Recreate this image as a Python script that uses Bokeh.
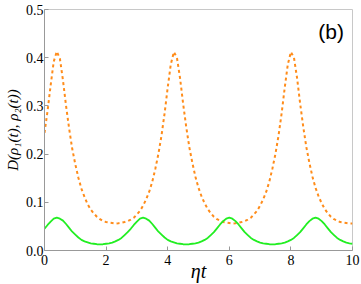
from bokeh.plotting import figure
from bokeh.models import Range1d, Label, NumeralTickFormatter
from bokeh.embed import file_html
from bokeh.resources import INLINE

t = [round(i * 0.1, 1) for i in range(101)]

orange = [0.244, 0.290, 0.343, 0.392, 0.413, 0.398, 0.353, 0.300, 0.253, 0.211,
          0.179, 0.151, 0.128, 0.111, 0.096, 0.085, 0.077, 0.070, 0.065, 0.061,
          0.059, 0.058, 0.057, 0.056, 0.0565, 0.0575, 0.059, 0.061, 0.064, 0.068,
          0.075, 0.082, 0.093, 0.106, 0.122, 0.143, 0.170, 0.201, 0.239, 0.285,
          0.338, 0.386, 0.412, 0.400, 0.358, 0.305, 0.257, 0.215, 0.182, 0.153,
          0.130, 0.112, 0.098, 0.086, 0.077, 0.070, 0.065, 0.062, 0.059, 0.058,
          0.057, 0.056, 0.0565, 0.0575, 0.059, 0.061, 0.064, 0.068, 0.075, 0.082,
          0.093, 0.106, 0.122, 0.143, 0.170, 0.201, 0.239, 0.285, 0.338, 0.386,
          0.412, 0.400, 0.358, 0.305, 0.257, 0.215, 0.182, 0.153, 0.130, 0.112,
          0.098, 0.086, 0.077, 0.070, 0.065, 0.062, 0.059, 0.058, 0.057, 0.056,
          0.056]

green = [0.045, 0.053, 0.060, 0.066, 0.068, 0.066, 0.062, 0.055, 0.047, 0.039,
         0.033, 0.027, 0.022, 0.019, 0.017, 0.015, 0.014, 0.013, 0.0125, 0.013,
         0.014, 0.015, 0.0165, 0.019, 0.022, 0.026, 0.032, 0.038, 0.045, 0.053,
         0.060, 0.066, 0.068, 0.066, 0.062, 0.055, 0.047, 0.039, 0.033, 0.027,
         0.022, 0.019, 0.017, 0.015, 0.014, 0.013, 0.0125, 0.013, 0.014, 0.015,
         0.0165, 0.019, 0.022, 0.026, 0.032, 0.038, 0.046, 0.054, 0.061, 0.066,
         0.068, 0.066, 0.061, 0.054, 0.046, 0.038, 0.032, 0.026, 0.022, 0.019,
         0.0165, 0.015, 0.014, 0.013, 0.0125, 0.013, 0.014, 0.015, 0.0165, 0.019,
         0.022, 0.026, 0.032, 0.038, 0.046, 0.054, 0.061, 0.066, 0.068, 0.066,
         0.061, 0.054, 0.046, 0.038, 0.032, 0.026, 0.022, 0.019, 0.0165, 0.015,
         0.014]

x_ticks = [0, 2, 4, 6, 8, 10]
y_ticks = [0.0, 0.1, 0.2, 0.3, 0.4, 0.5]

p = figure(width=361, height=284, output_backend="svg", toolbar_location=None,
           x_range=Range1d(0, 10), y_range=Range1d(0, 0.5),
           min_border_left=44, min_border_right=9, min_border_top=9, min_border_bottom=34)

p.line(t, orange, line_color="#FF8C1A", line_width=2, line_dash="3 3")
p.line(t, green, line_color="#22EE22", line_width=1.8)

p.grid.visible = False
p.outline_line_color = "#C8C8C8"
p.background_fill_color = "white"

for ax in (p.xaxis[0], p.yaxis[0]):
    ax.axis_line_color = "#999999"
    ax.major_tick_line_color = "#999999"
    ax.minor_tick_line_color = "#999999"
    ax.major_tick_in = 4
    ax.major_tick_out = 0
    ax.minor_tick_in = 2
    ax.minor_tick_out = 0
    ax.major_label_text_font = "Liberation Serif"
    ax.major_label_text_font_size = "14px"
    ax.major_label_text_color = "black"
    ax.axis_label_text_font = "Liberation Serif"
    ax.axis_label_text_font_style = "italic"
    ax.axis_label_text_color = "black"

p.xaxis.ticker = x_ticks
p.xaxis[0].ticker.num_minor_ticks = 4
p.yaxis.ticker = y_ticks
p.yaxis[0].ticker.num_minor_ticks = 2
p.yaxis.formatter = NumeralTickFormatter(format="0.0")
p.xaxis.major_label_standoff = 4
p.yaxis.major_label_standoff = 1

p.xaxis.axis_label = "ηt"
p.xaxis.axis_label_text_font_size = "20px"
p.xaxis.axis_label_standoff = -8
p.yaxis.axis_label = "D(ρ₁(t), ρ₂(t))"
p.yaxis.axis_label_text_font_size = "15px"
p.yaxis.axis_label_standoff = 2

p.add_layout(Label(x=9.72, y=0.43, text="(b)", text_font="Liberation Sans",
                   text_font_size="21px", text_align="right", text_baseline="bottom",
                   text_color="black"))

open("out.html", "w").write(file_html(p, INLINE))
